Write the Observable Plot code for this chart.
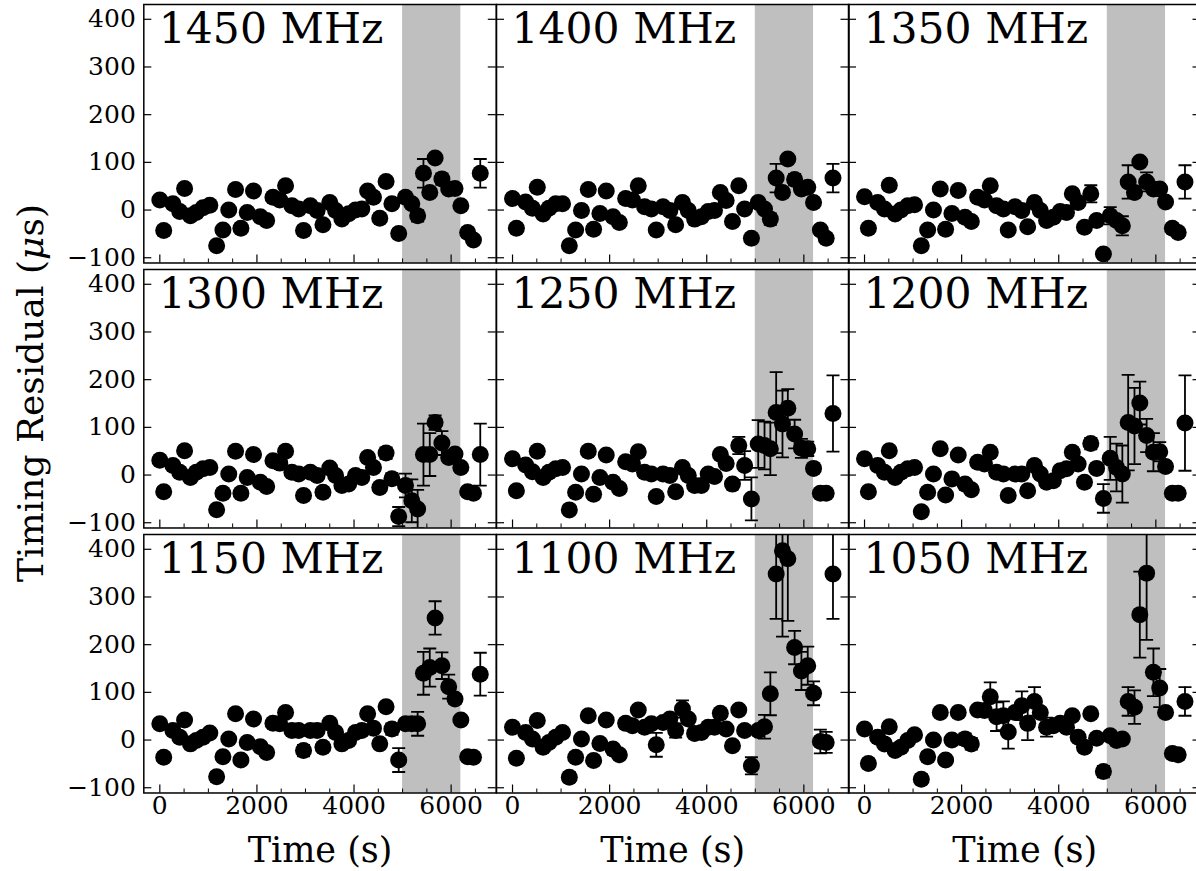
<!DOCTYPE html>
<html><head><meta charset="utf-8">
<script src="https://cdn.jsdelivr.net/npm/d3@7"></script>
<script src="https://cdn.jsdelivr.net/npm/@observablehq/plot@0.6"></script>
<style>
html,body{margin:0;padding:0;background:#fff;overflow:hidden;}
#fig{position:relative;width:1196px;height:871px;overflow:hidden;background:#fff;font-family:"DejaVu Serif",serif;}
#fig svg{position:absolute;}
#ylabel{position:absolute;left:30px;top:393px;transform:translate(-50%,-50%) rotate(-90deg);white-space:nowrap;font-size:36px;font-family:"DejaVu Serif",serif;color:#000;}
</style></head>
<body><div id="fig"><div id="ylabel">Timing Residual (<i>μ</i>s)</div></div>
<script>
// ---- data ----
const times = [0, 80, 270, 410, 510, 630, 750, 890, 1030, 1170, 1300, 1420, 1560, 1670, 1800, 1930, 2070, 2200, 2330, 2470, 2590, 2720, 2860, 2960, 3100, 3240, 3360, 3500, 3620, 3750, 3890, 4030, 4160, 4280, 4400, 4530, 4660, 4780, 4920, 5060, 5190, 5310, 5430, 5560, 5670, 5810, 5950, 6080, 6200, 6340, 6460, 6600];

const freqLabels = ["1450 MHz", "1400 MHz", "1350 MHz", "1300 MHz", "1250 MHz", "1200 MHz", "1150 MHz", "1100 MHz", "1050 MHz"];

const v1450 = [21, -43, 13, -3, 45, -12, -5, 5, 10, -75, -42, 0, 43, -38, -5, 40, -14, -22, 27, 21, 51, 9, 2, -43, 9, -1, -31, 16, -1, -19, -8, 0, 2, 40, 27, -17, 60, 13, -49, 27, 13, -12, 77, 37, 109, 65, 44, 45, 9, -47, -63, 77];
const v1400 = [24, -38, 17, 4, 48, -8, 4, 13, 13, -75, -42, -1, 43, -40, -7, 40, -14, -26, 24, 21, 51, 7, 2, -42, 7, -1, -31, 16, -1, -19, -14, -3, -1, 37, 20, -24, 51, 2, -59, 16, 2, -19, 67, 37, 107, 64, 44, 48, 16, -42, -59, 67];
const v1350 = [28, -38, 16, 2, 52, -8, 0, 9, 11, -75, -42, 0, 44, -40, -7, 41, -15, -24, 27, 21, 51, 9, 2, -42, 7, -1, -35, 16, -1, -22, -15, -3, -5, 34, 16, -36, 34, -22, -92, -12, -22, -33, 59, 37, 101, 59, 44, 44, 17, -38, -47, 59];
const v1300 = [31, -35, 20, 6, 51, -5, 6, 13, 16, -73, -38, 2, 50, -38, -5, 43, -15, -24, 30, 25, 50, 6, 2, -43, 6, -1, -36, 15, -1, -22, -19, -1, -5, 37, 16, -26, 46, -8, -87, -22, -54, -71, 43, 43, 110, 67, 37, 44, 16, -35, -38, 43];
const v1250 = [34, -33, 21, 7, 50, -5, 6, 13, 16, -73, -36, 2, 50, -40, -5, 42, -15, -28, 28, 23, 49, 6, 2, -45, 2, -1, -35, 16, -1, -22, -22, 2, -3, 43, 24, -19, 62, 20, -50, 65, 62, 55, 131, 107, 140, 86, 56, 55, 14, -38, -38, 129];
const v1200 = [34, -35, 20, 6, 51, -5, 6, 13, 16, -77, -36, 2, 55, -42, -8, 42, -19, -31, 27, 23, 48, 6, 2, -43, 2, 2, -33, 20, 2, -15, -12, 9, 13, 48, 23, -15, 66, 14, -49, 35, 16, 2, 110, 103, 151, 83, 48, 49, 18, -38, -38, 109];
const v1150 = [34, -36, 20, 6, 42, -8, -1, 6, 15, -77, -35, 2, 55, -42, -5, 44, -14, -26, 35, 34, 58, 20, 20, -22, 20, 20, -15, 35, 16, -8, -1, 16, 20, 55, 25, -8, 70, 23, -42, 34, 34, 34, 140, 152, 256, 156, 112, 86, 42, -35, -36, 138];
const v1100 = [27, -38, 16, 2, 41, -15, -5, 6, 16, -78, -36, 2, 51, -43, -7, 42, -19, -31, 35, 30, 63, 27, 34, -10, 37, 44, 20, 65, 44, 14, 16, 27, 27, 56, 23, -12, 63, 20, -54, 20, 28, 97, 348, 397, 380, 194, 145, 156, 98, -3, -5, 348];
const v1050 = [23, -49, 6, -8, 28, -22, -15, -1, 11, -82, -35, 0, 58, -42, 0, 58, 2, -8, 63, 62, 91, 49, 51, 17, 58, 72, 35, 81, 58, 27, 30, 35, 27, 51, 6, -15, 55, 4, -66, 9, -1, 2, 81, 69, 263, 350, 142, 109, 58, -28, -31, 81];

// visible error bars: [time, error]; all other points have a small error hidden by the marker
const e1450 = [[80, 10], [2960, 10], [5310, 12], [5430, 30], [5810, 12], [6340, 10], [6600, 30]];
const e1400 = [[80, 8], [2960, 8], [5310, 12], [5430, 30], [5810, 12], [6340, 8], [6600, 30]];
const e1350 = [[80, 6], [2960, 8], [4660, 18], [4920, 8], [5060, 18], [5310, 20], [5430, 35], [5810, 20], [6600, 35]];
const e1300 = [[2960, 8], [4660, 12], [4780, 12], [4920, 20], [5060, 25], [5190, 45], [5310, 40], [5430, 65], [5560, 45], [5670, 15], [5810, 25], [6600, 65]];
const e1250 = [[2960, 8], [4660, 18], [4780, 30], [4920, 45], [5060, 50], [5190, 50], [5310, 55], [5430, 85], [5560, 70], [5670, 40], [5810, 30], [5950, 20], [6080, 15], [6340, 8], [6460, 8], [6600, 80]];
const e1200 = [[4660, 12], [4920, 30], [5060, 45], [5190, 50], [5310, 60], [5430, 100], [5560, 80], [5670, 45], [5810, 35], [5950, 40], [6080, 20], [6340, 8], [6600, 100]];
const e1150 = [[80, 8], [1170, 10], [2960, 12], [4780, 12], [4920, 25], [5310, 25], [5430, 45], [5560, 40], [5670, 35], [5810, 28], [5950, 25], [6080, 10], [6600, 45]];
const e1100 = [[1170, 10], [2960, 25], [3360, 15], [3500, 18], [4920, 18], [5190, 25], [5310, 45], [5430, 94], [5560, 180], [5670, 130], [5810, 35], [5950, 40], [6080, 40], [6200, 25], [6340, 25], [6460, 22], [6600, 94]];
const e1050 = [[80, 10], [1170, 10], [1300, 10], [2070, 12], [2200, 12], [2590, 30], [2720, 30], [2860, 30], [2960, 35], [3240, 30], [3360, 35], [3500, 30], [3750, 20], [4920, 12], [5430, 30], [5560, 35], [5670, 90], [5810, 140], [5950, 50], [6080, 40], [6340, 10], [6460, 10], [6600, 30]];

const flareBand = [5000, 6200];
const xMajorTicks = [0, 2000, 4000, 6000];
const xMinorTicks = [500, 1000, 1500, 2500, 3000, 3500, 4500, 5000, 5500, 6500];
const yTicks = [-100, 0, 100, 200, 300, 400];
const defaultErr = 6;

// ---- layout ----
const panelValues = [v1450, v1400, v1350, v1300, v1250, v1200, v1150, v1100, v1050];
const panelErrors = [e1450, e1400, e1350, e1300, e1250, e1200, e1150, e1100, e1050];
const xDomain = [-330, 6930];
const yDomain = [-111, 431];
const W = 352.5, H = 258.5;
const colLeft = [143.3, 495.8, 848.3];
const rowTop = [3.5, 268.5, 533.5];
const FONT = "DejaVu Serif";
const fig = document.getElementById("fig");

const capSymbol = {
  draw(ctx, size) {
    const w = Math.sqrt(size / Math.PI);
    ctx.moveTo(-w, 0);
    ctx.lineTo(w, 0);
  }
};
const fmt = d => d < 0 ? "\u2212" + Math.abs(d) : String(d);

panelValues.forEach((vals, i) => {
  const c = i % 3, r = Math.floor(i / 3);
  const errMap = new Map(panelErrors[i]);
  const data = times.map((t, k) => ({t, v: vals[k], e: errMap.has(t) ? errMap.get(t) : defaultErr}));
  const mL = c === 0 ? colLeft[0] : 2;
  const mT = 2, mR = 2;
  const mB = r === 2 ? 871 - (rowTop[2] + H) : 2;
  const marks = [
    Plot.rect([flareBand], {x1: d => d[0], x2: d => d[1], fill: "#bfbfbf"}),
    Plot.text([freqLabels[i]], {frameAnchor: "top-left", text: d => d, dx: 15, dy: 8, lineAnchor: "top", fontSize: 42.5, fontFamily: FONT, fill: "black"}),
    Plot.ruleX(data, {x: "t", y1: d => d.v - d.e, y2: d => d.v + d.e, stroke: "black", strokeWidth: 1.8, clip: true}),
    Plot.dot(data, {x: "t", y: d => d.v + d.e, symbol: capSymbol, r: 6.5, stroke: "black", strokeWidth: 1.8, fill: "none", clip: true}),
    Plot.dot(data, {x: "t", y: d => d.v - d.e, symbol: capSymbol, r: 6.5, stroke: "black", strokeWidth: 1.8, fill: "none", clip: true}),
    Plot.dot(data, {x: "t", y: "v", r: 8.5, fill: "black", clip: true}),
    Plot.tickX(xMajorTicks, {x: d => d, insetTop: H - 8, stroke: "black", strokeWidth: 1.2}),
    Plot.tickX(xMinorTicks, {x: d => d, insetTop: H - 4, stroke: "black", strokeWidth: 1}),
    Plot.tickY(yTicks, {y: d => d, insetRight: W - 8, stroke: "black", strokeWidth: 1.2}),
    Plot.tickY(yTicks, {y: d => d, insetLeft: W - 8, stroke: "black", strokeWidth: 1.2}),
    Plot.frame({stroke: "black", strokeWidth: 1.5})
  ];
  if (c === 0) {
    marks.push(Plot.text(yTicks, {y: d => d, frameAnchor: "left", text: fmt, textAnchor: "end", dx: -8, fontSize: 25, fontFamily: FONT, fill: "black"}));
  }
  if (r === 2) {
    marks.push(Plot.text(xMajorTicks, {x: d => d, frameAnchor: "bottom", lineAnchor: "top", dy: 3, text: d => String(d), fontSize: 25, fontFamily: FONT, fill: "black"}));
    marks.push(Plot.text(["Time (s)"], {frameAnchor: "bottom", lineAnchor: "top", dy: 44, text: d => d, fontSize: 35, fontFamily: FONT, fill: "black"}));
  }
  const svg = Plot.plot({
    width: mL + W + mR,
    height: mT + H + mB,
    marginLeft: mL, marginRight: mR, marginTop: mT, marginBottom: mB,
    x: {domain: xDomain, axis: null},
    y: {domain: yDomain, axis: null},
    style: {background: "transparent", maxWidth: "none", fontFamily: FONT, overflow: "visible"},
    marks
  });
  svg.style.left = (c === 0 ? 0 : colLeft[c] - 2) + "px";
  svg.style.top = (rowTop[r] - 2) + "px";
  fig.appendChild(svg);
});
</script>
</body></html>
